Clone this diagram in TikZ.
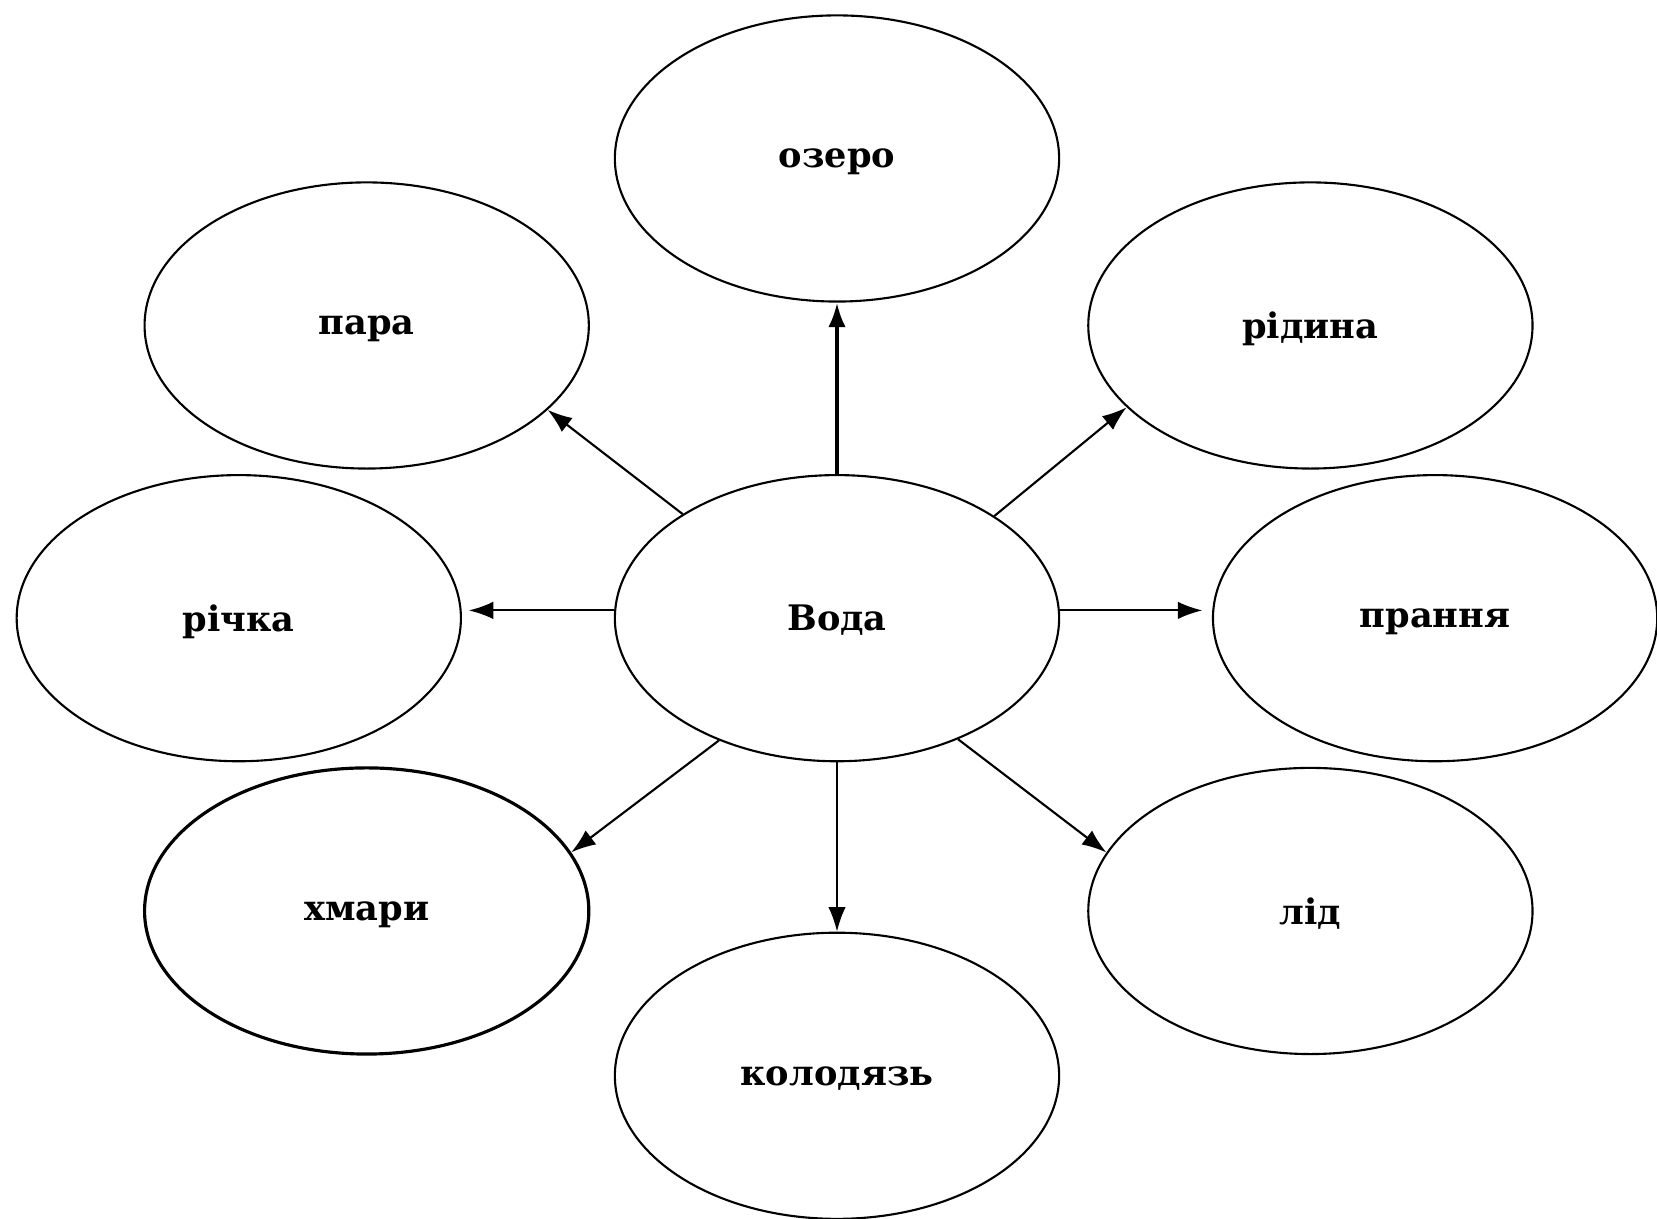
\documentclass[tikz,border=0pt]{standalone}
\usepackage{fontspec}
\setmainfont{DejaVu Serif}
\usetikzlibrary{shapes,arrows.meta,positioning}

\begin{document}
\begin{tikzpicture}[x=0.01cm,y=0.01cm,
     word/.style = {draw, ellipse, line width=0.6pt, minimum width=4.44cm, minimum height=2.86cm,
      inner sep=0pt, text depth=-5pt, font=\fontsize{10}{12}\selectfont\bfseries},
     arrow/.style={draw, line width=0.6pt, -{Latex[length=7pt,width=5pt]}},
     thickarrow/.style={arrow, line width=1.1pt}
    ]
    \useasboundingbox (0,0) rectangle (1657,1219);

    \node [word] (voda) at (837,600.8) {Вода};
    \node [word] (ozero) at (837,1060.5) {озеро};
    \node [word] (para) at (366.7,893.5) {пара};
    \node [word] (ridyna) at (1310.4,893.5) {рідина};
    \node [word] (richka) at (238.8,600.8) {річка};
    \node [word] (prannia) at (1435.1,600.8) {прання};
    \node [word, line width=0.9pt] (khmary) at (366.7,308) {хмари};
    \node [word] (lid) at (1310.4,308) {лід};
    \node [word] (kolodiaz) at (837,143.2) {колодязь};

    \draw[thickarrow] (voda.north) -- (ozero.south);
    \draw[arrow] (voda.146) -- (para.-25);
    \draw[arrow] (voda.33) -- (ridyna.-156);
    \draw[arrow] (voda.178) -- ([xshift=2pt]richka.2);
    \draw[arrow] (voda.2) -- ([xshift=-2.8pt]prannia.178);
    \draw[arrow] (voda.-134) -- (khmary.16);
    \draw[arrow] (voda.-45) -- (lid.164);
    \draw[arrow] (voda.south) -- (kolodiaz.north);
\end{tikzpicture}
\end{document}
